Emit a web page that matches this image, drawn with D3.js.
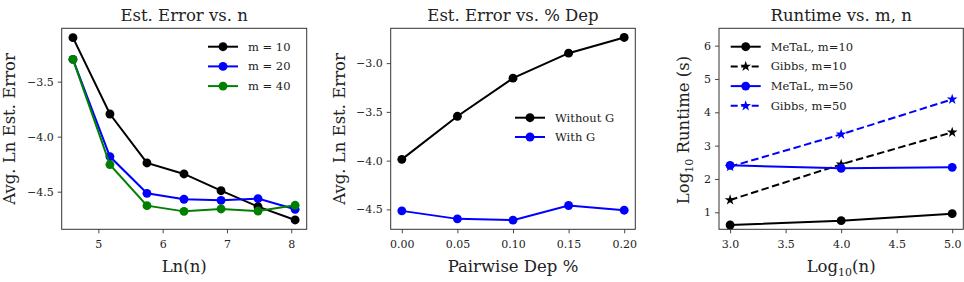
<!DOCTYPE html>
<html><head><meta charset="utf-8">
<script src="https://cdn.jsdelivr.net/npm/d3@7"></script>
<style>
html,body{margin:0;padding:0;background:#fff;}
svg text{font-family:"DejaVu Serif",serif;fill:#222;}
</style></head>
<body><svg id="c" width="964" height="282"></svg>
<script>
// ---- data ----
const lnN = [4.605, 5.18, 5.756, 6.332, 6.908, 7.483, 8.06];
const errM10 = [-3.100, -3.794, -4.239, -4.339, -4.491, -4.636, -4.757];
const errM20 = [-3.297, -4.181, -4.515, -4.569, -4.579, -4.563, -4.660];
const errM40 = [-3.297, -4.254, -4.627, -4.679, -4.657, -4.676, -4.624];
const m1Labels = ["m = 10", "m = 20", "m = 40"];

const depPct = [0.00, 0.05, 0.10, 0.15, 0.20];
const errWithoutG = [-3.987, -3.545, -3.154, -2.898, -2.737];
const errWithG = [-4.515, -4.597, -4.610, -4.460, -4.508];
const depLabels = ["Without G", "With G"];

const log10N = [3.0, 4.0, 5.0];
const metalM10 = [0.619, 0.749, 0.959];
const gibbsM10 = [1.369, 2.439, 3.399];
const metalM50 = [2.409, 2.319, 2.349];
const gibbsM50 = [2.369, 3.339, 4.389];
const rtLabels = ["MeTaL, m=10", "Gibbs, m=10", "MeTaL, m=50", "Gibbs, m=50"];

const ticks1x = [5, 6, 7, 8], ticks1y = [-3.5, -4.0, -4.5];
const ticks2x = [0.00, 0.05, 0.10, 0.15, 0.20], ticks2y = [-3.0, -3.5, -4.0, -4.5];
const ticks3x = [3.0, 3.5, 4.0, 4.5, 5.0], ticks3y = [1, 2, 3, 4, 5, 6];

const svg = d3.select("#c");
const fmtMinus = s => s.replace("-", "\u2212");

function panel(o) {
  const g = svg.append("g");
  const x = d3.scaleLinear().domain(o.xd).range([o.x0, o.x1]);
  const y = d3.scaleLinear().domain(o.yd).range([o.y1, o.y0]);
  const xa = g.append("g").attr("transform", `translate(0,${o.y1})`)
    .call(d3.axisBottom(x).tickValues(o.xt).tickSize(4).tickPadding(7).tickFormat(v => fmtMinus(d3.format(o.xf)(v))));
  const ya = g.append("g").attr("transform", `translate(${o.x0},0)`)
    .call(d3.axisLeft(y).tickValues(o.yt).tickSize(4).tickPadding(4).tickFormat(v => fmtMinus(d3.format(o.yf)(v))));
  [xa, ya].forEach(a => {
    a.select(".domain").remove();
    a.selectAll("line").attr("stroke", "#333").attr("stroke-width", 0.9);
    a.selectAll("text").attr("font-size", 11).attr("fill", "#222");
  });
  o.series.forEach(s => {
    const line = d3.line().x((d, i) => x(o.xs[i])).y(d => y(d));
    g.append("path").datum(s.v).attr("fill", "none").attr("stroke", s.c)
      .attr("stroke-width", 2).attr("stroke-dasharray", s.dash ? "7.5,3.5" : null)
      .attr("d", line);
    const sym = s.star ? d3.symbol(d3.symbolStar, 36) : d3.symbol(d3.symbolCircle, 62);
    g.selectAll(null).data(s.v).enter().append("path")
      .attr("d", sym).attr("fill", s.c)
      .attr("transform", (d, i) => `translate(${x(o.xs[i])},${y(d)})`);
  });
  g.append("rect").attr("x", o.x0).attr("y", o.y0).attr("width", o.x1 - o.x0).attr("height", o.y1 - o.y0)
    .attr("fill", "none").attr("stroke", "#333").attr("stroke-width", 1);
  o.series.forEach((s, i) => {
    const ly = o.ly + i * o.lstep;
    g.append("line").attr("x1", o.lx).attr("x2", o.lx + 30).attr("y1", ly).attr("y2", ly)
      .attr("stroke", s.c).attr("stroke-width", 2).attr("stroke-dasharray", s.dash ? "7,3.5" : null);
    const sym = s.star ? d3.symbol(d3.symbolStar, 36) : d3.symbol(d3.symbolCircle, 62);
    g.append("path").attr("d", sym).attr("fill", s.c).attr("transform", `translate(${o.lx + 15},${ly})`);
    g.append("text").attr("x", o.lx + 40).attr("y", ly).attr("dy", "0.35em")
      .attr("font-size", 11.5).text(s.label);
  });
  g.append("text").attr("x", (o.x0 + o.x1) / 2).attr("y", 21).attr("text-anchor", "middle")
    .attr("font-size", 16.5).text(o.title);
  const xl = g.append("text").attr("x", (o.x0 + o.x1) / 2).attr("y", 272).attr("text-anchor", "middle")
    .attr("font-size", 16.5);
  o.xlabel(xl);
  const yl = g.append("text").attr("transform", `translate(${o.ylx},${o.ylc}) rotate(-90)`)
    .attr("text-anchor", "middle").attr("font-size", 16.5);
  o.ylabel(yl);
}

panel({
  x0: 61.7, x1: 306.7, y0: 28.3, y1: 229.3, xd: [4.43, 8.24], yd: [-4.842, -3.015],
  xt: ticks1x, yt: ticks1y, xf: "d", yf: ".1f", xs: lnN,
  series: [{v: errM10, c: "#000", label: m1Labels[0]}, {v: errM20, c: "#0000ff", label: m1Labels[1]}, {v: errM40, c: "#008000", label: m1Labels[2]}],
  lx: 208, ly: 46.7, lstep: 19.7,
  title: "Est. Error vs. n",
  xlabel: t => t.text("Ln(n)"),
  ylabel: t => t.text("Avg. Ln Est. Error"), ylx: 15, ylc: 129
});
panel({
  x0: 390.7, x1: 635.3, y0: 28.3, y1: 229.3, xd: [-0.01, 0.21], yd: [-4.704, -2.643],
  xt: ticks2x, yt: ticks2y, xf: ".2f", yf: ".1f", xs: depPct,
  series: [{v: errWithoutG, c: "#000", label: depLabels[0]}, {v: errWithG, c: "#0000ff", label: depLabels[1]}],
  lx: 515, ly: 117.7, lstep: 19.3,
  title: "Est. Error vs. % Dep",
  xlabel: t => t.text("Pairwise Dep %"),
  ylabel: t => t.text("Avg. Ln Est. Error"), ylx: 345, ylc: 129
});
panel({
  x0: 719, x1: 963.3, y0: 28.3, y1: 229.3, xd: [2.9, 5.1], yd: [0.49, 6.52],
  xt: ticks3x, yt: ticks3y, xf: ".1f", yf: "d", xs: log10N,
  series: [{v: metalM10, c: "#000", label: rtLabels[0]}, {v: gibbsM10, c: "#000", dash: true, star: true, label: rtLabels[1]},
           {v: metalM50, c: "#0000ff", label: rtLabels[2]}, {v: gibbsM50, c: "#0000ff", dash: true, star: true, label: rtLabels[3]}],
  lx: 730.7, ly: 46.7, lstep: 19.7,
  title: "Runtime vs. m, n",
  xlabel: t => { t.append("tspan").text("Log"); t.append("tspan").attr("font-size", 11).attr("dy", 4).text("10"); t.append("tspan").attr("dy", -4).text("(n)"); },
  ylabel: t => { t.append("tspan").text("Log"); t.append("tspan").attr("font-size", 11).attr("dy", 4).text("10"); t.append("tspan").attr("dy", -4).text(" Runtime (s)"); },
  ylx: 689, ylc: 130
});
</script></body></html>
